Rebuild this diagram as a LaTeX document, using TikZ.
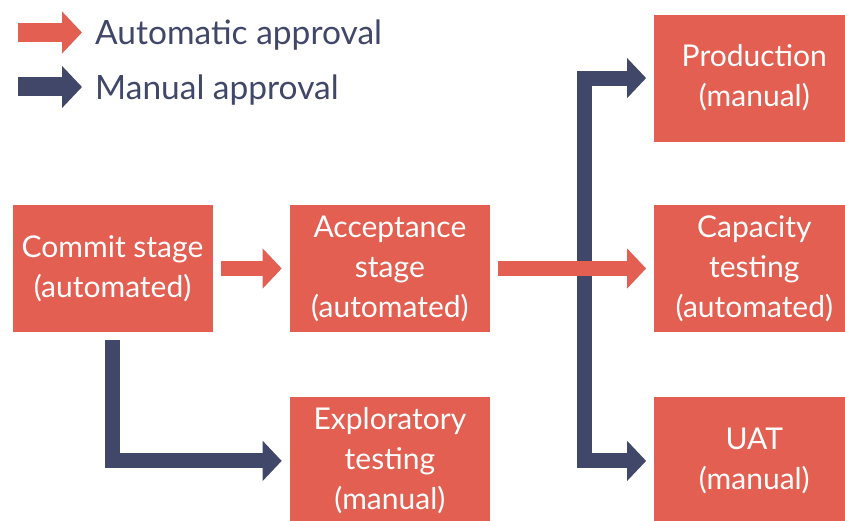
\documentclass[tikz,border=0pt]{standalone}
\usepackage{fontspec}
\setmainfont{Lato}
\usetikzlibrary{arrows.meta,positioning}
\definecolor{stagered}{RGB}{227,95,82}
\definecolor{manualblue}{RGB}{64,71,105}
\tikzset{every node/.style={font=\fontsize{30}{40}\selectfont}}
\tikzset{stage/.style={fill=stagered,text=white,minimum width=200pt,minimum height=127pt,align=center,inner sep=0pt}}
\tikzset{legendlbl/.style={anchor=base west,inner sep=0pt,text=manualblue,font=\fontsize{33.5}{40}\selectfont}}
\tikzset{autoflow/.style={draw=stagered,line width=15pt,-{Triangle[length=19pt,width=39pt]}}}
\tikzset{manualflow/.style={draw=manualblue,line width=15pt,-{Triangle[length=19pt,width=39pt]}}}
\tikzset{legendflow/.style={line width=19pt,-{Triangle[length=20pt,width=41pt]}}}

\begin{document}
\begin{tikzpicture}[x=1pt,y=-1pt]
            \clip (0,0) rectangle (845,521);
            % legend
            \coordinate (autotail) at (18,32.5);
            \coordinate (autotip) at (82,32.5);
            \coordinate (manualtail) at (18,87);
            \coordinate (manualtip) at (82,87);
            \draw [autoflow,legendflow] (autotail) -- (autotip);
            \draw [manualflow,legendflow] (manualtail) -- (manualtip);
            \node [legendlbl] (autolbl) at (95,45) {Automatic approval};
            \node [legendlbl] (manuallbl) at (95,100) {Manual approval};
            % stages
            \node [stage] (commit) at (112.5,268.5) {Commit stage\\(automated)};
            \node [stage,right=77pt of commit] (accept) {Acceptance\\stage\\(automated)};
            \node [stage,below=65pt of accept] (explor) {Exploratory\\testing\\(manual)};
            \node [stage,right=164pt of accept] (capacity) {Capacity\\testing\\(automated)};
            \node [stage,above=63pt of capacity] (prod) {Production\\(manual)};
            \node [stage,below=65pt of capacity] (uat) {UAT\\(manual)};
            % flows
            \coordinate (split) at (584.5,268.5);
            \draw [manualflow] ([yshift=-8pt]commit.south) |- ([xshift=-8pt]explor.west);
            \draw [manualflow] (split) |- ([xshift=-8pt]prod.west);
            \draw [manualflow] (split) |- ([xshift=-8pt]uat.west);
            \draw [autoflow] ([xshift=8pt]commit.east) -- ([xshift=-8pt]accept.west);
            \draw [autoflow] ([xshift=8pt]accept.east) -- ([xshift=-8pt]capacity.west);
        \end{tikzpicture}
\end{document}
